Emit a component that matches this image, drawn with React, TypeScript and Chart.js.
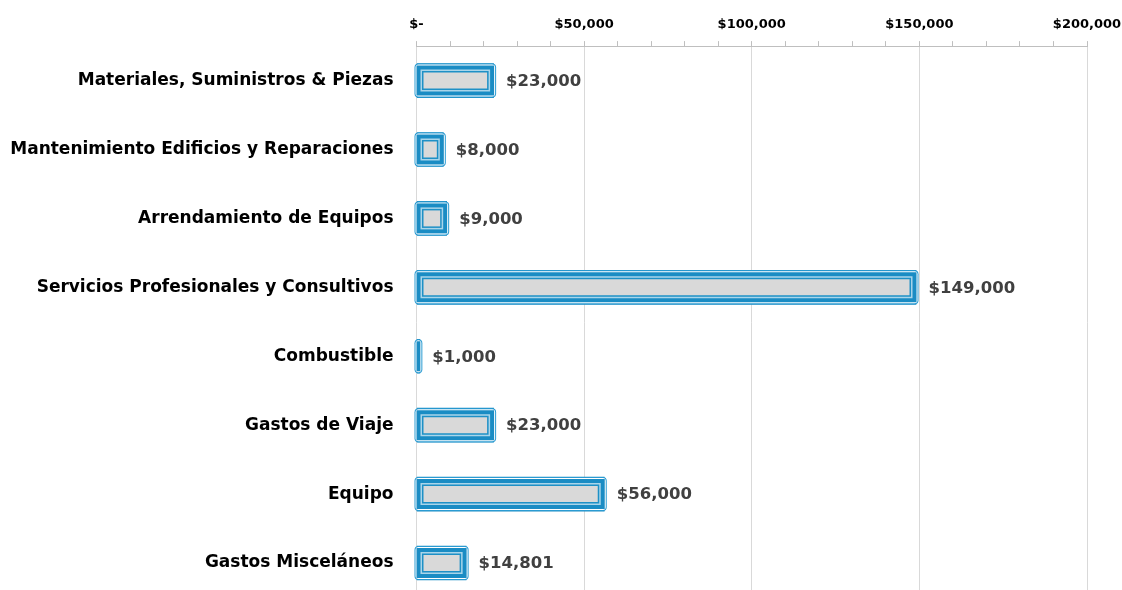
import React, { useEffect, useRef } from "react";
import { Chart, registerables } from "chart.js";

Chart.register(...registerables);

const categories = [
  "Materiales, Suministros & Piezas",
  "Mantenimiento Edificios y Reparaciones",
  "Arrendamiento de Equipos",
  "Servicios Profesionales y Consultivos",
  "Combustible",
  "Gastos de Viaje",
  "Equipo",
  "Gastos Misceláneos",
];
const values = [23000, 8000, 9000, 149000, 1000, 23000, 56000, 14801];
const axisMin = 0;
const axisMax = 200000;
const majorStep = 50000;
const minorStep = 10000;

const FONT = "'DejaVu Sans', sans-serif";

const fmtMoney = (v: number) =>
  v === 0 ? "$-" : "$" + v.toLocaleString("en-US");

const layeredBars = {
  id: "layeredBars",
  afterDatasetsDraw(chart: any) {
    const ctx = chart.ctx;
    const meta = chart.getDatasetMeta(0);
    const layers: [number, string][] = [
      [0, "#2A9BD2"],
      [1, "#FFFFFF"],
      [2, "#1A8CC4"],
      [6, "#A9D5EA"],
      [7.5, "#1E90C6"],
      [9, "#D9D9D9"],
    ];
    ctx.save();
    meta.data.forEach((el: any) => {
      const p = el.getProps(["x", "y", "base", "height"], true);
      const x0 = Math.min(p.base, p.x) - 2.5;
      const x1 = Math.max(p.base, p.x) + 2.5;
      const half = 17;
      const y0 = p.y - half;
      const y1 = p.y + half;
      layers.forEach(([inset, color], i) => {
        const l = x0 + inset;
        const r = x1 - inset;
        const t = y0 + inset;
        const b = y1 - inset;
        if (r - l <= 0.5 || b - t <= 0.5) return;
        ctx.fillStyle = color;
        ctx.beginPath();
        const rr = (ctx as any).roundRect;
        if (i === 0 && rr) {
          (ctx as any).roundRect(l, t, r - l, b - t, Math.max(0, Math.min(4, (r - l) / 2)));
        } else if (i === 1 && rr) {
          (ctx as any).roundRect(l, t, r - l, b - t, Math.max(0, Math.min(3, (r - l) / 2)));
        } else {
          ctx.rect(l, t, r - l, b - t);
        }
        ctx.fill();
      });
    });
    ctx.fillStyle = "#404040";
    ctx.font = `bold 16.5px ${FONT}`;
    ctx.textAlign = "left";
    ctx.textBaseline = "middle";
    meta.data.forEach((el: any, i: number) => {
      const p = el.getProps(["x", "y"], true);
      ctx.fillText(fmtMoney(values[i]), p.x + 12.5, p.y + 1);
    });
    ctx.restore();
  },
};

export default function App() {
  const ref = useRef<HTMLCanvasElement | null>(null);

  useEffect(() => {
    document.body.style.margin = "0";
    const canvas = ref.current!;
    const chart = new Chart(canvas, {
      type: "bar",
      data: {
        labels: categories,
        datasets: [
          {
            data: values,
            backgroundColor: "#1A8CC4",
            borderWidth: 0,
            barThickness: 34,
          },
        ],
      },
      options: {
        indexAxis: "y",
        responsive: false,
        animation: false,
        layout: { padding: { top: 7.5, right: 35, bottom: 2.5, left: 0 } },
        plugins: {
          legend: { display: false },
          tooltip: { enabled: false },
        },
        scales: {
          x: {
            position: "top",
            min: axisMin,
            max: axisMax,
            grid: {
              color: (c: any) =>
                c.tick && c.tick.value % majorStep === 0 ? "#D9D9D9" : "rgba(0,0,0,0)",
              tickColor: "#BFBFBF",
              tickLength: 5,
              drawTicks: true,
            },
            border: { display: true, color: "#BFBFBF" },
            ticks: {
              stepSize: minorStep,
              autoSkip: false,
              maxRotation: 0,
              padding: 9,
              color: "#000000",
              font: { family: FONT, size: 13, weight: "bold" },
              callback: (v: any) =>
                Number(v) % majorStep === 0 ? fmtMoney(Number(v)) : "",
            },
            afterFit: (s: any) => {
              s.paddingLeft = 0;
              s.paddingRight = 0;
            },
          },
          y: {
            grid: { display: false, drawTicks: false },
            border: { display: false },
            ticks: {
              padding: 23,
              color: "#000000",
              font: { family: FONT, size: 17, weight: "bold" },
            },
            afterFit: (s: any) => {
              s.width = 416.5;
              s.paddingTop = 0;
              s.paddingBottom = 0;
            },
          },
        },
      },
      plugins: [layeredBars],
    } as any);
    return () => chart.destroy();
  }, []);

  return (
    <div
      style={{
        position: "fixed",
        left: 0,
        top: 0,
        width: 1122,
        height: 590,
        overflow: "hidden",
        background: "#fff",
      }}
    >
      <canvas ref={ref} width={1122} height={600} style={{ display: "block" }} />
    </div>
  );
}
